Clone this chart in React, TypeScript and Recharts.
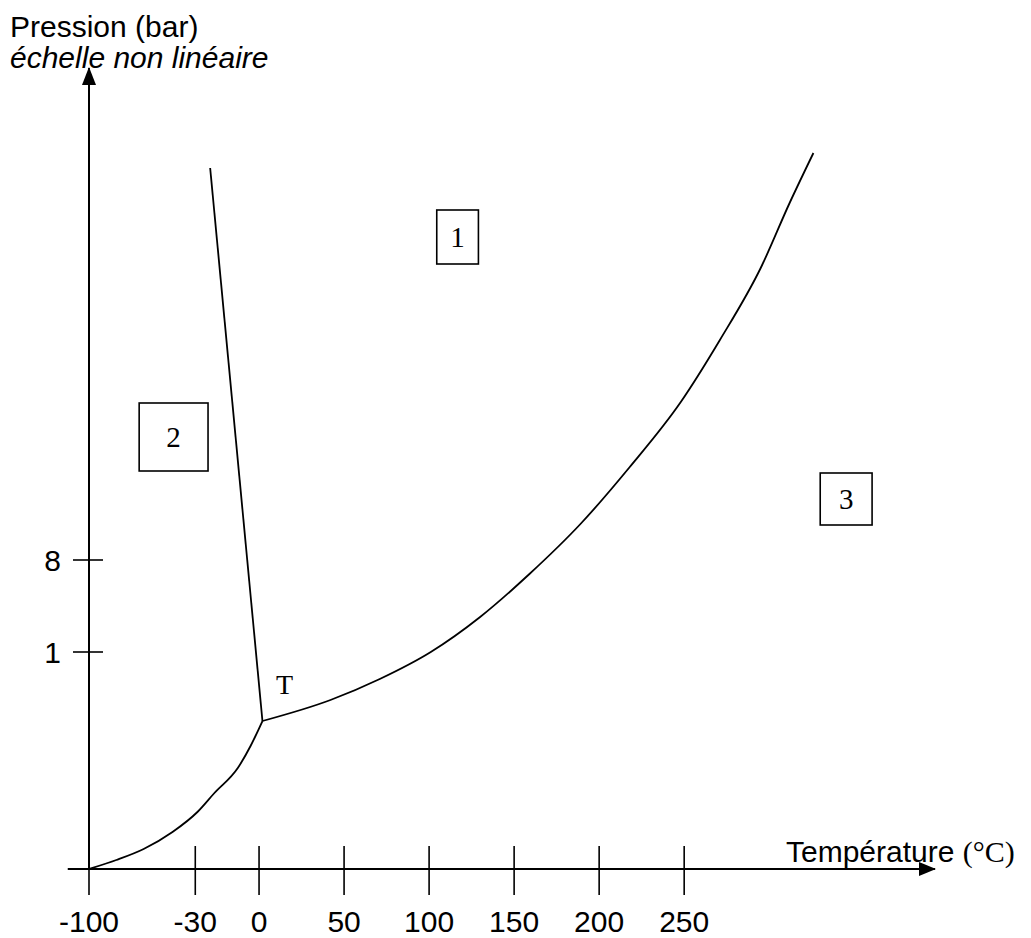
import React from 'react';
import { LineChart, Line, XAxis, YAxis, ReferenceLine, ReferenceDot, ReferenceArea } from 'recharts';

// ---- axis ticks (non-linear axes: ticks sit on "slots") ----
const xTickTemps = [-100, -30, 0, 50, 100, 150, 200, 250];
const xTickSlots = [0, 1.25, 2, 3, 4, 5, 6, 7];
const yTickLabels = ['1', '8'];
const yTickLevels = [2.17, 3.09];

// ---- curves: temperature (°C) and pressure level (non-linear scale units) ----
const sublimationTemp = [-100, -82, -64, -45, -29, -21, -10, -4, 2];
const sublimationLevel = [0, 0.09, 0.2, 0.37, 0.57, 0.76, 1.01, 1.23, 1.48];
const fusionTemp = [2, -23];
const fusionLevel = [1.48, 7.01];
const vaporTemp = [2, 42, 71, 101, 130, 159, 189, 218, 248, 271, 295, 312, 326];
const vaporLevel = [1.48, 1.69, 1.9, 2.17, 2.52, 2.95, 3.45, 4.02, 4.67, 5.29, 6.01, 6.66, 7.16];

// ---- region boxes (axis units) ----
const regionLabels = ['1', '2', '3'];
const regionX = [[4.09, 4.58], [0.59, 1.4], [8.6, 9.21]];
const regionY = [[6.05, 6.59], [3.98, 4.66], [3.44, 3.96]];

const triplePoint = { t: 2, level: 1.48 };
const X_MAX = 9.95;
const Y_MAX = 8.01;

const SANS = '"Liberation Sans", Arial, sans-serif';
const SERIF = '"Liberation Serif", "Times New Roman", serif';

const toSlot = (t: number) => {
  for (let i = 0; i < xTickTemps.length - 1; i++) {
    if (t <= xTickTemps[i + 1]) {
      const f = (t - xTickTemps[i]) / (xTickTemps[i + 1] - xTickTemps[i]);
      return xTickSlots[i] + f * (xTickSlots[i + 1] - xTickSlots[i]);
    }
  }
  const n = xTickTemps.length - 1;
  return xTickSlots[n] + (t - xTickTemps[n]) / 50;
};

const build = (ts: number[], ls: number[]) => ts.map((t, i) => ({ x: toSlot(t), y: ls[i] }));
const sublimation = build(sublimationTemp, sublimationLevel);
const fusion = build(fusionTemp, fusionLevel);
const vapor = build(vaporTemp, vaporLevel);

const XTick = (props: any) => {
  const { x, y, payload } = props;
  const idx = xTickSlots.indexOf(payload.value);
  return (
    <g>
      <line x1={x} x2={x} y1={y - 23} y2={y + 26} stroke="#000" strokeWidth={1.6} />
      <text x={x} y={y + 63} textAnchor="middle" fontSize={30} fontFamily={SANS} fill="#000">
        {xTickTemps[idx]}
      </text>
    </g>
  );
};

const YTick = (props: any) => {
  const { x, y, payload } = props;
  const idx = yTickLevels.indexOf(payload.value);
  return (
    <g>
      <line x1={x - 16} x2={x + 14} y1={y} y2={y} stroke="#000" strokeWidth={1.6} />
      <text x={x - 28} y={y + 11} textAnchor="end" fontSize={30} fontFamily={SANS} fill="#000">
        {yTickLabels[idx]}
      </text>
    </g>
  );
};

const boxShape = (label: string) => (p: any) => (
  <g>
    <rect x={p.x} y={p.y} width={p.width} height={p.height} fill="#fff" stroke="#000" strokeWidth={1.6} />
    <text x={p.x + p.width / 2} y={p.y + p.height / 2 + 10} textAnchor="middle" fontSize={29} fontFamily={SERIF} fill="#000">
      {label}
    </text>
  </g>
);

export default function App() {
  return (
    <div style={{ position: 'absolute', left: 0, top: 0, width: 1031, height: 938, background: '#fff' }}>
      <LineChart width={1031} height={938} margin={{ top: 68, right: 96, left: 29, bottom: 9 }}>
        <XAxis
          type="number"
          dataKey="x"
          domain={[0, X_MAX]}
          ticks={xTickSlots}
          interval={0}
          allowDataOverflow
          axisLine={false}
          tickLine={false}
          tickSize={0}
          tickMargin={0}
          height={60}
          tick={<XTick />}
        />
        <YAxis
          type="number"
          dataKey="y"
          domain={[0, Y_MAX]}
          ticks={yTickLevels}
          interval={0}
          allowDataOverflow
          width={60}
          axisLine={{ stroke: '#000', strokeWidth: 2 }}
          tickLine={false}
          tickSize={0}
          tickMargin={0}
          tick={<YTick />}
        />
        <ReferenceLine
          segment={[{ x: -0.25, y: 0 }, { x: X_MAX, y: 0 }]}
          stroke="#000"
          strokeWidth={2}
          ifOverflow="visible"
        />
        <ReferenceDot
          x={X_MAX}
          y={0}
          ifOverflow="visible"
          shape={(p: any) => (
            <polygon points={`${p.cx + 1},${p.cy} ${p.cx - 16},${p.cy - 7} ${p.cx - 16},${p.cy + 7}`} fill="#000" />
          )}
        />
        <ReferenceDot
          x={0}
          y={Y_MAX}
          ifOverflow="visible"
          shape={(p: any) => (
            <polygon points={`${p.cx},${p.cy - 1} ${p.cx - 7},${p.cy + 17} ${p.cx + 7},${p.cy + 17}`} fill="#000" />
          )}
        />
        {regionLabels.map((lab, i) => (
          <ReferenceArea
            key={lab}
            x1={regionX[i][0]}
            x2={regionX[i][1]}
            y1={regionY[i][0]}
            y2={regionY[i][1]}
            ifOverflow="visible"
            shape={boxShape(lab)}
          />
        ))}
        <Line data={sublimation} dataKey="y" type="monotone" stroke="#000" strokeWidth={1.8} dot={false} isAnimationActive={false} />
        <Line data={fusion} dataKey="y" type="linear" stroke="#000" strokeWidth={1.8} dot={false} isAnimationActive={false} />
        <Line data={vapor} dataKey="y" type="monotone" stroke="#000" strokeWidth={1.8} dot={false} isAnimationActive={false} />
        <ReferenceDot
          x={toSlot(triplePoint.t)}
          y={triplePoint.level}
          ifOverflow="visible"
          shape={(p: any) => (
            <text x={p.cx + 22} y={p.cy - 27} textAnchor="middle" fontSize={28} fontFamily={SERIF} fill="#000">
              T
            </text>
          )}
        />
      </LineChart>
      <svg width={1031} height={938} style={{ position: 'absolute', left: 0, top: 0, pointerEvents: 'none' }}>
        <text x={10} y={37} fontSize={30} fontFamily={SANS} fill="#000">Pression (bar)</text>
        <text x={10} y={68} fontSize={30} fontFamily={SANS} fontStyle="italic" fill="#000">échelle non linéaire</text>
        <text x={786} y={862} fontSize={30} fontFamily={SANS} fill="#000">
          Température <tspan fontFamily={SERIF}>(°C)</tspan>
        </text>
      </svg>
    </div>
  );
}
